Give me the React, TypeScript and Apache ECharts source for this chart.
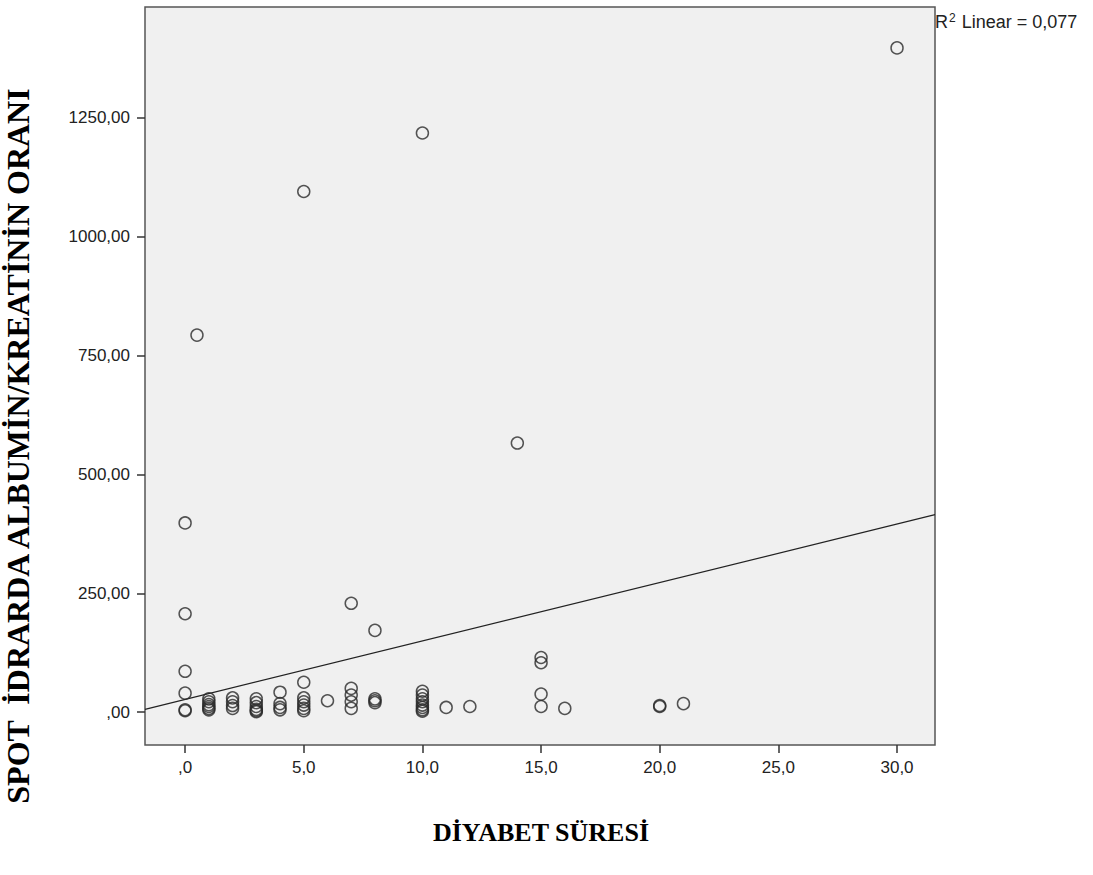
import React, { useEffect, useRef } from "react";
import * as echarts from "echarts";

// DİYABET SÜRESİ (years)
const durations: number[] = [
  0, 0, 0, 0, 0, 0,
  0.5,
  1, 1, 1, 1, 1, 1,
  2, 2, 2, 2,
  3, 3, 3, 3, 3, 3,
  4, 4, 4, 4,
  5, 5, 5, 5, 5, 5, 5,
  6,
  7, 7, 7, 7, 7,
  8, 8, 8, 8,
  10, 10, 10, 10, 10, 10, 10, 10, 10,
  11,
  12,
  14,
  15, 15, 15, 15,
  16,
  20, 20,
  21,
  30,
];
// SPOT İDRARDA ALBUMİN/KREATİNİN ORANI
const ratios: number[] = [
  398, 207, 86, 40, 5, 3,
  793,
  28, 22, 16, 12, 8, 5,
  30, 22, 14, 8,
  28, 20, 12, 6, 3, 1,
  42, 18, 10, 5,
  1095, 63, 30, 22, 15, 8, 3,
  24,
  229, 50, 36, 22, 8,
  172, 28, 24, 20,
  1218, 44, 36, 28, 22, 15, 10, 5, 2,
  10,
  12,
  566,
  115, 104, 38, 12,
  8,
  14, 12,
  18,
  1397,
];

// Linear fit
const fitIntercept = 26.8;
const fitSlope = 12.3;
const rSquaredValue = "0,077";

const xTicks: number[] = [0, 5, 10, 15, 20, 25, 30];
const yTicks: number[] = [0, 250, 500, 750, 1000, 1250];
const xMin = -1.69;
const xMax = 31.6;
const yMin = -69;
const yMax = 1483;

const xTitle = "DİYABET SÜRESİ";
const yTitle = "SPOT  İDRARDA ALBUMİN/KREATİNİN ORANI";

export default function App() {
  const ref = useRef<HTMLDivElement>(null);
  useEffect(() => {
    if (!ref.current) return;
    const chart = echarts.init(ref.current, undefined, { renderer: "svg" });
    const points = durations.map((d, i) => [d, ratios[i]]);
    const fitLine = [
      [xMin, fitIntercept + fitSlope * xMin],
      [xMax, fitIntercept + fitSlope * xMax],
    ];
    const labelFont = {
      fontFamily: "Liberation Sans, Arial, sans-serif",
      fontSize: 17,
      color: "#222",
    };
    chart.setOption({
      animation: false,
      backgroundColor: "#ffffff",
      grid: {
        left: 145,
        right: 158,
        top: 7,
        bottom: 130,
        show: true,
        backgroundColor: "#f0f0f0",
        borderColor: "#555",
        borderWidth: 1.5,
      },
      xAxis: {
        type: "value",
        min: xMin,
        max: xMax,
        axisLine: { show: false, onZero: false },
        splitLine: { show: false },
        axisTick: {
          show: true,
          customValues: xTicks,
          length: 8,
          lineStyle: { color: "#333", width: 1.5 },
        },
        axisLabel: {
          ...labelFont,
          customValues: xTicks,
          margin: 14,
          formatter: (v: number) => (v === 0 ? ",0" : v.toFixed(1).replace(".", ",")),
        },
      },
      yAxis: {
        type: "value",
        min: yMin,
        max: yMax,
        axisLine: { show: false, onZero: false },
        splitLine: { show: false },
        axisTick: {
          show: true,
          customValues: yTicks,
          length: 8,
          lineStyle: { color: "#333", width: 1.5 },
        },
        axisLabel: {
          ...labelFont,
          customValues: yTicks,
          margin: 15,
          formatter: (v: number) => (v === 0 ? ",00" : v.toFixed(2).replace(".", ",")),
        },
      },
      series: [
        {
          type: "line",
          data: fitLine,
          symbol: "none",
          lineStyle: { color: "#222", width: 1.2 },
          z: 2,
        },
        {
          type: "scatter",
          data: points,
          symbol: "circle",
          symbolSize: 12,
          itemStyle: {
            color: "rgba(0,0,0,0)",
            borderColor: "#2a2a2a",
            borderWidth: 1.5,
          },
          z: 3,
        },
      ],
      graphic: [
        {
          type: "text",
          left: 935,
          top: 12,
          style: {
            text: "R{sup|2} Linear = " + rSquaredValue,
            font: "18px 'Liberation Sans', Arial, sans-serif",
            fill: "#222",
            rich: {
              sup: {
                fontSize: 12,
                fontFamily: "Liberation Sans, Arial, sans-serif",
                fill: "#222",
                verticalAlign: "top",
                padding: [0, 1, 8, 1],
              },
            },
          },
        },
        {
          type: "text",
          x: 541,
          y: 832,
          style: {
            text: xTitle,
            font: "bold 26px 'Liberation Serif', 'Times New Roman', serif",
            fill: "#000",
            align: "center",
            verticalAlign: "middle",
          },
        },
        {
          type: "text",
          x: 18,
          y: 446,
          rotation: Math.PI / 2,
          style: {
            text: yTitle,
            font: "bold 32px 'Liberation Serif', 'Times New Roman', serif",
            fill: "#000",
            align: "center",
            verticalAlign: "middle",
          },
        },
      ],
    });
    return () => chart.dispose();
  }, []);
  return (
    <div
      ref={ref}
      style={{ position: "fixed", left: 0, top: 0, width: 1093, height: 875 }}
    />
  );
}
